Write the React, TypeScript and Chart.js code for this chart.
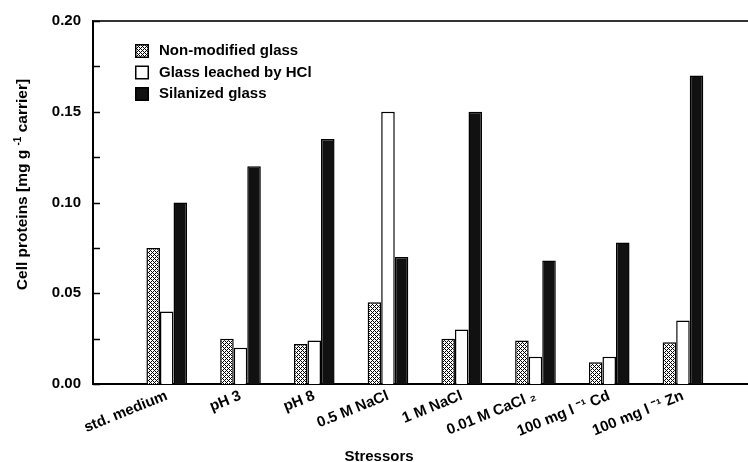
import React, { useEffect, useRef } from 'react';
import { Chart, registerables } from 'chart.js';

Chart.register(...registerables);

// ---- data ----
const categories = [
  'std. medium',
  'pH 3',
  'pH 8',
  '0.5 M NaCl',
  '1 M NaCl',
  '0.01 M CaCl ₂',
  '100 mg l ⁻¹ Cd',
  '100 mg l ⁻¹ Zn',
];
const seriesNames = ['Non-modified glass', 'Glass leached by HCl', 'Silanized glass'];
const nonModified = [0.075, 0.025, 0.022, 0.045, 0.025, 0.024, 0.012, 0.023];
const leachedHCl = [0.04, 0.02, 0.024, 0.15, 0.03, 0.015, 0.015, 0.035];
const silanized = [0.1, 0.12, 0.135, 0.07, 0.15, 0.068, 0.078, 0.17];
const yTickValues = [0, 0.05, 0.1, 0.15, 0.2];
const yMinorTickValues = [0.025, 0.075, 0.125, 0.175];
const yTitleParts = ['Cell proteins [mg g ', '-1', ' carrier]'];
const xTitle = 'Stressors';

const FONT = '"Liberation Sans", Arial, Helvetica, sans-serif';

function makeHatch(): CanvasPattern | string {
  const c = document.createElement('canvas');
  c.width = 4;
  c.height = 4;
  const g = c.getContext('2d');
  if (!g) return '#888';
  g.fillStyle = '#fff';
  g.fillRect(0, 0, 4, 4);
  g.fillStyle = '#000';
  for (let x = 0; x < 4; x++) {
    for (let y = 0; y < 4; y++) {
      if ((x + y) % 4 === 0 || (x - y + 4) % 4 === 0) g.fillRect(x, y, 1, 1);
    }
  }
  const p = g.createPattern(c, 'repeat');
  return p || '#888';
}

const decorPlugin = {
  id: 'decor',
  afterDraw(chart: any) {
    const ctx: CanvasRenderingContext2D = chart.ctx;
    const { left, top } = chart.chartArea;
    const ys = chart.scales.y;
    ctx.save();

    // top frame line
    ctx.strokeStyle = '#333';
    ctx.lineWidth = 2;
    ctx.beginPath();
    ctx.moveTo(left, top);
    ctx.lineTo(chart.width, top);
    ctx.stroke();

    // inward ticks on y axis
    ctx.strokeStyle = '#000';
    ctx.lineWidth = 1.5;
    [...yTickValues, ...yMinorTickValues].forEach((v) => {
      const py = Math.round(ys.getPixelForValue(v)) + 0.5;
      ctx.beginPath();
      ctx.moveTo(left, py);
      ctx.lineTo(left + 7, py);
      ctx.stroke();
    });

    // legend
    ctx.font = `bold 15px ${FONT}`;
    ctx.textBaseline = 'middle';
    ctx.textAlign = 'left';
    chart.data.datasets.forEach((ds: any, i: number) => {
      const cy = top + 30 + i * 21.5;
      const bx = left + 42;
      ctx.fillStyle = ds.backgroundColor;
      ctx.fillRect(bx, cy - 7, 14, 14);
      ctx.strokeStyle = '#000';
      ctx.lineWidth = 1.5;
      ctx.strokeRect(bx + 0.75, cy - 6.25, 12.5, 12.5);
      ctx.fillStyle = '#000';
      ctx.fillText(ds.label, bx + 24, cy);
    });

    // y title with superscript
    ctx.save();
    ctx.translate(22, (chart.chartArea.top + chart.chartArea.bottom) / 2 - 18);
    ctx.rotate(-Math.PI / 2);
    const big = `bold 15.5px ${FONT}`;
    const small = `bold 10px ${FONT}`;
    ctx.font = big;
    const w0 = ctx.measureText(yTitleParts[0]).width;
    const w2 = ctx.measureText(yTitleParts[2]).width;
    ctx.font = small;
    const w1 = ctx.measureText(yTitleParts[1]).width;
    const total = w0 + w1 + w2;
    let x = -total / 2;
    ctx.textAlign = 'left';
    ctx.textBaseline = 'alphabetic';
    ctx.fillStyle = '#000';
    ctx.font = big;
    ctx.fillText(yTitleParts[0], x, 5);
    x += w0;
    ctx.font = small;
    ctx.fillText(yTitleParts[1], x, -1);
    x += w1;
    ctx.font = big;
    ctx.fillText(yTitleParts[2], x, 5);
    ctx.restore();

    // x title
    ctx.font = `bold 15px ${FONT}`;
    ctx.textAlign = 'center';
    ctx.textBaseline = 'alphabetic';
    ctx.fillStyle = '#000';
    ctx.fillText(xTitle, 379, 461);

    ctx.restore();
  },
};

export default function App() {
  const ref = useRef<HTMLCanvasElement | null>(null);

  useEffect(() => {
    if (!ref.current) return;
    const hatch = makeHatch();
    const toXY = (arr: number[]) => arr.map((v, i) => ({ x: i, y: v }));
    const chart = new Chart(ref.current, {
      type: 'bar',
      data: {
        datasets: [
          {
            label: seriesNames[0],
            data: toXY(nonModified),
            backgroundColor: hatch as any,
            borderColor: '#000',
            borderWidth: 1.5,
          },
          {
            label: seriesNames[1],
            data: toXY(leachedHCl),
            backgroundColor: '#fff',
            borderColor: '#000',
            borderWidth: 1.5,
          },
          {
            label: seriesNames[2],
            data: toXY(silanized),
            backgroundColor: '#111',
            borderColor: '#000',
            borderWidth: 1.5,
          },
        ],
      },
      options: {
        responsive: false,
        animation: false,
        devicePixelRatio: 1,
        layout: { padding: { top: 19, left: 0, right: 0, bottom: 0 } },
        datasets: {
          bar: { categoryPercentage: 0.625, barPercentage: 1 },
        },
        plugins: {
          legend: { display: false },
          tooltip: { enabled: false },
        },
        scales: {
          x: {
            type: 'linear',
            display: false,
            offset: false,
            min: -1,
            max: 7.882,
            bounds: 'data',
            grid: { offset: false },
          },
          x2: {
            type: 'linear',
            position: 'bottom',
            offset: false,
            min: -1,
            max: 7.882,
            bounds: 'data',
            afterBuildTicks: (s: any) => {
              s.ticks = categories.map((_, i) => ({ value: i }));
            },
            afterFit: (s: any) => {
              s.height = 78;
            },
            grid: { display: false, drawTicks: false, offset: false },
            border: { display: true, color: '#000', width: 2 },
            ticks: {
              autoSkip: false,
              minRotation: 22,
              maxRotation: 22,
              padding: 3,
              color: '#000',
              font: { family: FONT, size: 15, weight: 'bold' },
              callback: (_v: any, i: number) => categories[i],
            },
          },
          y: {
            type: 'linear',
            min: 0,
            max: 0.2,
            bounds: 'data',
            afterBuildTicks: (s: any) => {
              s.ticks = yTickValues.map((v) => ({ value: v }));
            },
            afterFit: (s: any) => {
              s.width = 93;
            },
            grid: { display: false, drawTicks: false },
            border: { display: true, color: '#000', width: 2 },
            ticks: {
              padding: 12,
              color: '#000',
              font: { family: FONT, size: 15, weight: 'bold' },
              callback: (v: any) => Number(v).toFixed(2),
            },
          },
        },
      } as any,
      plugins: [decorPlugin],
    });
    return () => chart.destroy();
  }, []);

  return (
    <div style={{ position: 'absolute', left: 0, top: 0, width: 748, height: 462, background: '#fff' }}>
      <canvas ref={ref} width={748} height={462} />
    </div>
  );
}
